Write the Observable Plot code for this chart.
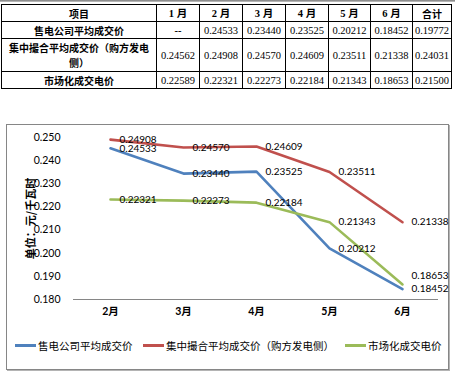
<!DOCTYPE html>
<html>
<head>
<meta charset="utf-8">
<script src="https://cdn.jsdelivr.net/npm/d3@7"></script>
<script src="https://cdn.jsdelivr.net/npm/@observablehq/plot@0.6"></script>
<style>
  html, body { margin: 0; padding: 0; background: #fff; }
  body { width: 455px; height: 375px; position: relative; overflow: hidden; }
  #topbar { position: absolute; left: 0; top: 0; width: 455px; height: 2px; background: linear-gradient(#7a7a7a, #c8c8c8); }
  table { position: absolute; left: 1px; top: 4px; border-collapse: collapse; table-layout: fixed; width: 450px; }
  td, th { border: 1px solid #000; padding: 0; text-align: center; vertical-align: middle; height: 16px; line-height: 15px;
           font-family: "Liberation Serif", "Noto Sans CJK SC", serif; font-size: 10.5px; color: #000; }
  th, td.lab { font-family: "Noto Sans CJK SC", sans-serif; font-weight: bold; font-size: 10px; }
  th.num { font-family: "Liberation Serif", "Noto Sans CJK SC", serif; font-weight: bold; font-size: 10.5px; }
  tr.tall td { height: 32px; }
  #box { position: absolute; left: 6px; top: 124px; width: 441px; height: 244px; border: 1px solid #868686;
         box-shadow: 1px 1px 0 #b4b4b4; }
  #chart { position: absolute; left: 0; top: 0; }
  #chart svg { font-family: Lato, "Noto Sans CJK SC", sans-serif; overflow: visible; }
  g[aria-label="y-axis label"] text { font-weight: bold; font-family: "Noto Sans CJK SC", sans-serif; font-size: 11px; }
  g[aria-label="x-axis tick label"] text { font-weight: bold; }
  #legend { position: absolute; left: 0; top: 212px; width: 441px; height: 16px; font-family: "Noto Sans CJK SC", sans-serif; font-size: 10.5px; color: #000; }
  .item { position: absolute; top: 0; display: flex; align-items: center; height: 16px; white-space: nowrap; }
  .swatch { width: 21px; height: 3px; margin-right: 2px; }
</style>
</head>
<body>
<div id="topbar"></div>
<div id="table"></div>
<div id="box">
  <div id="chart"></div>
  <div id="legend"></div>
</div>
<script>
// ---- data ----
const tableMonths = ["1 月", "2 月", "3 月", "4 月", "5 月", "6 月", "合计"];
const headerLabel = "项目";
const seriesNames = ["售电公司平均成交价", "集中撮合平均成交价（购方发电侧）", "市场化成交电价"];
const tableRowLabels = ["售电公司平均成交价", "集中撮合平均成交价（购方发电<br>侧）", "市场化成交电价"];
const salesCompany = ["--", "0.24533", "0.23440", "0.23525", "0.20212", "0.18452", "0.19772"];
const centralMatch = ["0.24562", "0.24908", "0.24570", "0.24609", "0.23511", "0.21338", "0.24031"];
const marketPrice = ["0.22589", "0.22321", "0.22273", "0.22184", "0.21343", "0.18653", "0.21500"];

const chartMonths = ["2月", "3月", "4月", "5月", "6月"];
const salesCompanyChart = [0.24533, 0.23440, 0.23525, 0.20212, 0.18452];
const centralMatchChart = [0.24908, 0.24570, 0.24609, 0.23511, 0.21338];
const marketPriceChart = [0.22321, 0.22273, 0.22184, 0.21343, 0.18653];
const yTicks = [0.18, 0.19, 0.20, 0.21, 0.22, 0.23, 0.24, 0.25];
const yTitle = "单位：元/千瓦时";
const colors = ["#4F81BD", "#C0504D", "#9BBB59"];

// ---- table ----
const tableRows = [salesCompany, centralMatch, marketPrice];
let html = '<table><colgroup><col style="width:155px">' +
  [43,43,43,43,42,42,39].map(w => `<col style="width:${w}px">`).join("") + '</colgroup>';
html += `<tr><th>${headerLabel}</th>` + tableMonths.map(m => `<th class="${/\d/.test(m) ? "num" : ""}">${m}</th>`).join("") + "</tr>";
tableRows.forEach((r, i) => {
  html += `<tr class="${i === 1 ? "tall" : ""}"><td class="lab">${tableRowLabels[i]}</td>` + r.map(v => `<td${v === "--" ? ' style="font-weight:bold"' : ""}>${v}</td>`).join("") + "</tr>";
});
html += "</table>";
document.getElementById("table").innerHTML = html;

// ---- chart data ----
const seriesVals = [salesCompanyChart, centralMatchChart, marketPriceChart];
const data = [];
seriesVals.forEach((vals, s) => vals.forEach((v, i) => data.push({series: seriesNames[s], month: chartMonths[i], value: v, s})));

const isRaised = d => d.s === 2 && d.month === chartMonths[chartMonths.length - 1];

const chart = Plot.plot({
  width: 441,
  height: 200,
  marginLeft: 66,
  marginRight: 10,
  marginTop: 12,
  marginBottom: 26,
  style: {fontSize: "10.5px", color: "#000", background: "transparent", overflow: "visible"},
  x: {type: "point", domain: chartMonths, padding: 0.5, label: null},
  y: {domain: [0.18, 0.25], label: null},
  color: {domain: seriesNames, range: colors},
  marks: [
    Plot.axisY({ticks: yTicks, tickFormat: d3.format(".3f"), tickSize: 0, tickPadding: 13,
      label: yTitle, labelAnchor: "center", labelArrow: "none", labelOffset: 46}),
    Plot.axisX({tickSize: 0, tickPadding: 8, label: null}),
    Plot.ruleX([0], {x: () => null, frameAnchor: "left", stroke: "#868686"}),
    Plot.ruleY([0.18], {stroke: "#868686"}),
    Plot.line(data, {x: "month", y: "value", z: "series", stroke: "series", strokeWidth: 2.6, strokeLinejoin: "miter"}),
    Plot.text(data.filter(d => !isRaised(d)), {x: "month", y: "value", text: d => d3.format(".5f")(d.value), dx: 9, textAnchor: "start", fill: "#000", fontSize: 10}),
    Plot.text(data.filter(isRaised), {x: "month", y: "value", text: d => d3.format(".5f")(d.value), dx: 9, dy: -9, textAnchor: "start", fill: "#000", fontSize: 10})
  ]
});
document.getElementById("chart").appendChild(chart);

// ---- legend ----
const legendX = [8, 136, 338];
document.getElementById("legend").innerHTML = seriesNames.map((n, i) =>
  `<div class="item" style="left:${legendX[i]}px"><div class="swatch" style="background:${colors[i]}"></div>${n}</div>`).join("");
</script>
</body>
</html>
